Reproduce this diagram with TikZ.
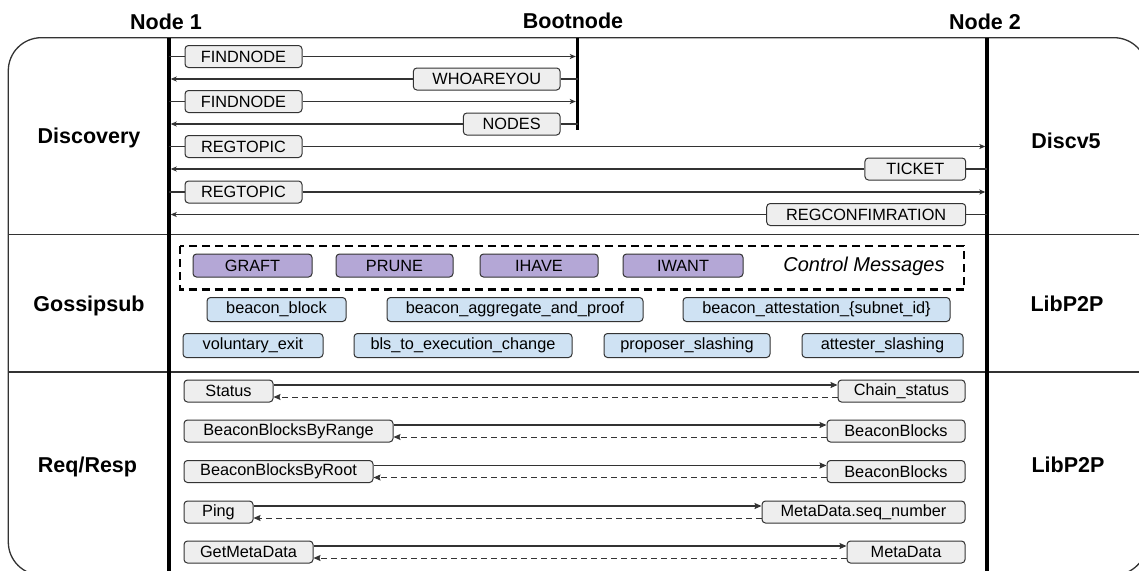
\documentclass[tikz,border=0pt]{standalone}
\usepackage{fontspec}
\setmainfont{Liberation Sans}
\usetikzlibrary{arrows.meta}

\definecolor{ink}{HTML}{333333}
\definecolor{msgfill}{HTML}{EEEEEE}
\definecolor{ctlfill}{HTML}{B4A7D6}
\definecolor{topicfill}{HTML}{CFE2F3}

\newcommand{\msgfont}{\fontsize{16.3}{18}\selectfont}
\newcommand{\hdrfont}{\fontsize{21.5}{24}\selectfont\bfseries}
\newcommand{\ctlfont}{\fontsize{20}{22}\selectfont\itshape}

\tikzset{
  frame/.style={draw=ink, line width=1.3pt},
  lifeline/.style={draw=black, line width=3.5pt},
  wire/.style={draw=ink, line width=1.2pt},
  msg/.style={draw=ink, line width=1pt, fill=msgfill, rounded corners=3.5pt,
    minimum height=22pt, inner sep=0pt, text=black, font=\msgfont},
  ctl/.style={msg, fill=ctlfill, minimum height=23pt},
  topic/.style={msg, fill=topicfill, minimum height=24pt},
  hdr/.style={font=\hdrfont, anchor=base, text=black, inner sep=0pt},
  disctip/.style={-{Stealth[length=6pt,width=5pt,inset=1.5pt]}, shorten >=1.7pt},
  reqtip/.style={-{Stealth[length=7pt,width=6pt,inset=1pt]}},
  reply/.style={wire, line width=1pt, dash pattern=on 6pt off 4pt}
}

\begin{document}
\begin{tikzpicture}[x=1pt,y=-1pt]
\clip (0,0) rectangle (1139,570);
\fill[white] (0,0) rectangle (1139,570);

% outer frame and section dividers
\draw[frame, rounded corners=33pt] (8.3,37.7) rectangle (1147,575);
\draw[frame] (8.3,234.5) -- (1147,234.5);
\draw[frame] (8.3,372) -- (1147,372);

% lifelines
\coordinate (n1top) at (169,37.7);
\coordinate (n1bot) at (169,575);
\coordinate (bntop) at (577.5,37.7);
\coordinate (bnbot) at (577.5,129.5);
\coordinate (n2top) at (987,37.7);
\coordinate (n2bot) at (987,575);
\draw[lifeline] (n1top) -- (n1bot);
\draw[lifeline] (bntop) -- (bnbot);
\draw[lifeline] (n2top) -- (n2bot);

% headers
\node[hdr] (h1) at (166,29.3) {Node 1};
\node[hdr] (hb) at (573,28.5) {Bootnode};
\node[hdr] (h2) at (985,29.3) {Node 2};

% section labels
\node[hdr] (sdisc) at (89,143.3) {Discovery};
\node[hdr] (sdv5) at (1066,148) {Discv5};
\node[hdr] (sgos) at (89,311) {Gossipsub};
\node[hdr] (slib1) at (1067,311) {LibP2P};
\node[hdr] (sreq) at (87.5,472) {Req/Resp};
\node[hdr] (slib2) at (1068,472) {LibP2P};

% ---------- Discovery ----------
\node[msg, minimum width=117pt] (d1) at (243.5,56.5) {FINDNODE};
\draw[wire] (d1.west -| n1top) -- (d1.west);
\draw[wire, disctip] (d1.east) -- (d1.east -| bntop);

\node[msg, minimum width=146.7pt] (d2) at (486.7,79) {WHOAREYOU};
\draw[wire] (d2.east -| bntop) -- (d2.east);
\draw[wire, disctip] (d2.west) -- (d2.west -| n1top);

\node[msg, minimum width=117pt] (d3) at (243.5,101.5) {FINDNODE};
\draw[wire] (d3.west -| n1top) -- (d3.west);
\draw[wire, disctip] (d3.east) -- (d3.east -| bntop);

\node[msg, minimum width=96.7pt] (d4) at (511.7,124) {NODES};
\draw[wire] (d4.east -| bntop) -- (d4.east);
\draw[wire, disctip] (d4.west) -- (d4.west -| n1top);

\node[msg, minimum width=117pt] (d5) at (243.5,146.5) {REGTOPIC};
\draw[wire] (d5.west -| n1top) -- (d5.west);
\draw[wire, disctip] (d5.east) -- (d5.east -| n2top);

\node[msg, minimum width=100.7pt] (d6) at (915.3,169) {TICKET};
\draw[wire] (d6.east -| n2top) -- (d6.east);
\draw[wire, disctip] (d6.west) -- (d6.west -| n1top);

\node[msg, minimum width=117pt] (d7) at (243.5,192) {REGTOPIC};
\draw[wire] (d7.west -| n1top) -- (d7.west);
\draw[wire, disctip] (d7.east) -- (d7.east -| n2top);

\node[msg, minimum width=199pt] (d8) at (866.2,214.5) {REGCONFIMRATION};
\draw[wire] (d8.east -| n2top) -- (d8.east);
\draw[wire, disctip] (d8.west) -- (d8.west -| n1top);

% ---------- Gossipsub ----------
\draw[draw=black, line width=2.2pt, dash pattern=on 8pt off 5pt] (180,246) rectangle (964,289.5);
\node[ctl, minimum width=119pt] (graft) at (252.5,265.5) {GRAFT};
\node[ctl, minimum width=117pt] (prune) at (394.5,265.5) {PRUNE};
\node[ctl, minimum width=118pt] (ihave) at (539,265.5) {IHAVE};
\node[ctl, minimum width=120pt] (iwant) at (683,265.5) {IWANT};
\node[font=\ctlfont, text=black, inner sep=0pt] (ctlmsg) at (864,266) {Control Messages};

\node[topic, minimum width=139pt] (t1) at (276.5,309.5) {beacon\_block};
\node[topic, minimum width=256pt] (t2) at (515,309.5) {beacon\_aggregate\_and\_proof};
\node[topic, minimum width=267pt] (t3) at (816.5,309.5) {beacon\_attestation\_\{subnet\_id\}};
\node[topic, minimum width=140pt] (t4) at (253,345.5) {voluntary\_exit};
\node[topic, minimum width=218pt] (t5) at (463,345.5) {bls\_to\_execution\_change};
\node[topic, minimum width=166pt] (t6) at (687,345.5) {proposer\_slashing};
\node[topic, minimum width=161pt] (t7) at (882.5,345.5) {attester\_slashing};

% ---------- Req/Resp ----------
\node[msg, minimum width=89pt] (q1) at (228.5,391) {Status};
\node[msg, minimum width=127pt] (a1) at (901.5,391) {Chain\_status};
\node[msg, minimum width=209pt] (q2) at (288.5,431) {BeaconBlocksByRange};
\node[msg, minimum width=138pt] (a2) at (896,431) {BeaconBlocks};
\node[msg, minimum width=189pt] (q3) at (278.5,471.5) {BeaconBlocksByRoot};
\node[msg, minimum width=138pt] (a3) at (896,471.5) {BeaconBlocks};
\node[msg, minimum width=69pt] (q4) at (218.5,512) {Ping};
\node[msg, minimum width=203pt] (a4) at (863.5,512) {MetaData.seq\_number};
\node[msg, minimum width=129pt] (q5) at (248.5,552) {GetMetaData};
\node[msg, minimum width=118pt] (a5) at (906,552) {MetaData};

\foreach \i in {1,...,5}{
  \draw[wire, reqtip] ([yshift=6pt]q\i.east) -- ([yshift=6pt]a\i.west);
  \draw[reply, reqtip] ([yshift=-6pt]a\i.west) -- ([yshift=-6pt]q\i.east);
}
\end{tikzpicture}
\end{document}
